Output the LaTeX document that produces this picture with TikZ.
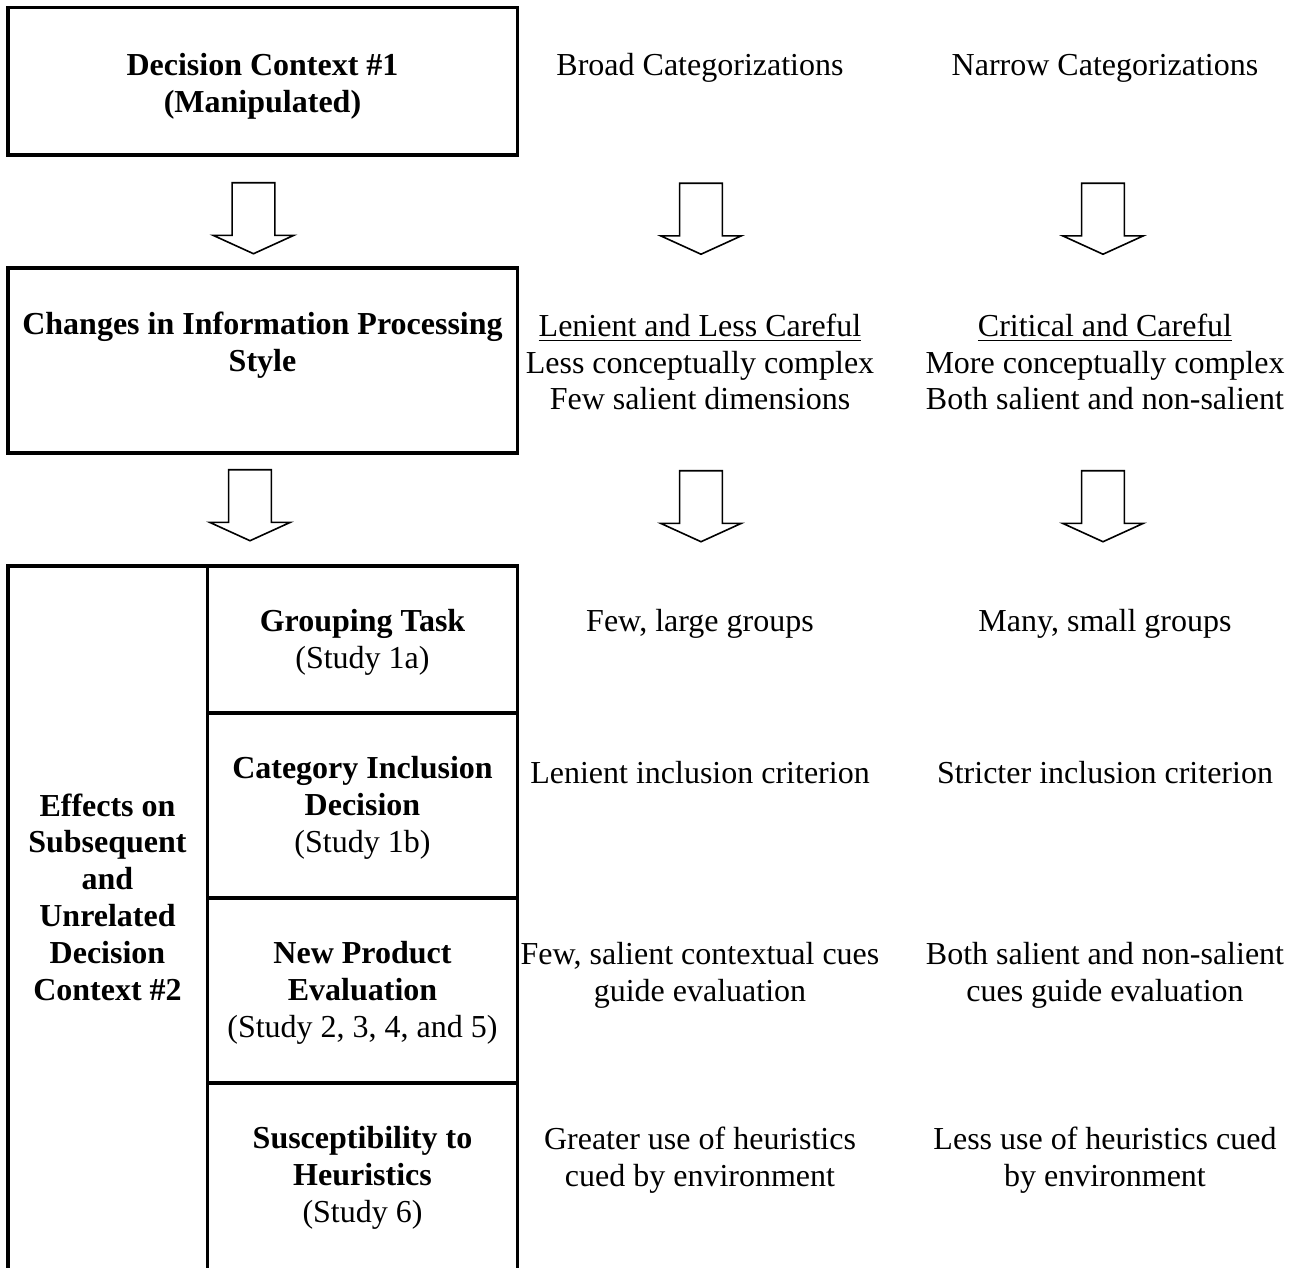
\documentclass[tikz,border=0pt]{standalone}
\usepackage{fontspec}
\setmainfont{Liberation Serif}
\usetikzlibrary{shapes.arrows}
\tikzset{
  txt/.style = {align=center, inner sep=0pt, font=\fontsize{12}{13.8}\selectfont},
  btxt/.style = {txt, font=\fontsize{12}{13.8}\selectfont\bfseries},
  frame/.style = {draw=black, line width=1.2pt},
  barrow/.style = {single arrow, draw=black, line width=0.6pt, shape border rotate=270,
    inner sep=7.7pt, minimum height=26.6pt, minimum width=29.6pt,
    single arrow head extend=7.1pt, single arrow tip angle=131, anchor=tail},
}

\begin{document}
\begin{tikzpicture}[x=0.375pt, y=-0.375pt]
\useasboundingbox (0,0) rectangle (1299,1268);
% boxes, the last one runs off the page
\draw[frame] (8,7.5) rectangle (517.5,155);
\draw[frame] (8,268) rectangle (517.5,453);
\draw[frame] (8,1268) -- (8,566) -- (517.5,566) -- (517.5,1268);
\draw[frame] (207.5,566) -- (207.5,1268);
\foreach \y in {713,898,1083}
  \draw[frame] (207.5,\y) -- (517.5,\y);

\node[btxt] (ctx1) at (262.5,86) {Decision Context \#1\\(Manipulated)};
\node[txt] (broad) at (700,68) {Broad Categorizations};
\node[txt] (narrow) at (1105,68) {Narrow Categorizations};

\node[barrow] (a11) at (253.5,182) {};
\node[barrow] (a12) at (701,182.5) {};
\node[barrow] (a13) at (1103,182.5) {};

\node[btxt] (proc) at (262.5,345) {Changes in Information Processing\\Style};
\node[txt] (lenient) at (700,362) {\underline{Lenient and Less Careful}\\Less conceptually complex\\Few salient dimensions};
\node[txt] (critical) at (1105,362) {\underline{Critical and Careful}\\More conceptually complex\\Both salient and non-salient};

\node[barrow] (a21) at (250,469) {};
\node[barrow] (a22) at (701,470) {};
\node[barrow] (a23) at (1103,470) {};

\node[btxt] (effects) at (107.5,897) {Effects on\\Subsequent\\and\\Unrelated\\Decision\\Context \#2};

\node[txt] (group) at (362.5,642) {\textbf{Grouping Task}\\(Study 1a)};
\node[txt] (incl) at (362.5,808) {\textbf{Category Inclusion}\\\textbf{Decision}\\(Study 1b)};
\node[txt] (eval) at (362.5,993) {\textbf{New Product}\\\textbf{Evaluation}\\(Study 2, 3, 4, and 5)};
\node[txt] (heur) at (362.5,1178) {\textbf{Susceptibility to}\\\textbf{Heuristics}\\(Study 6)};

\node[txt] (group-b) at (700,624) {Few, large groups};
\node[txt] (group-n) at (1105,624) {Many, small groups};
\node[txt] (incl-b) at (700,773) {Lenient inclusion criterion};
\node[txt] (incl-n) at (1105,773) {Stricter inclusion criterion};
\node[txt] (eval-b) at (700,975) {Few, salient contextual cues\\guide evaluation};
\node[txt] (eval-n) at (1105,975) {Both salient and non-salient\\cues guide evaluation};
\node[txt] (heur-b) at (700,1160) {Greater use of heuristics\\cued by environment};
\node[txt] (heur-n) at (1105,1160) {Less use of heuristics cued\\by environment};
\end{tikzpicture}
\end{document}
